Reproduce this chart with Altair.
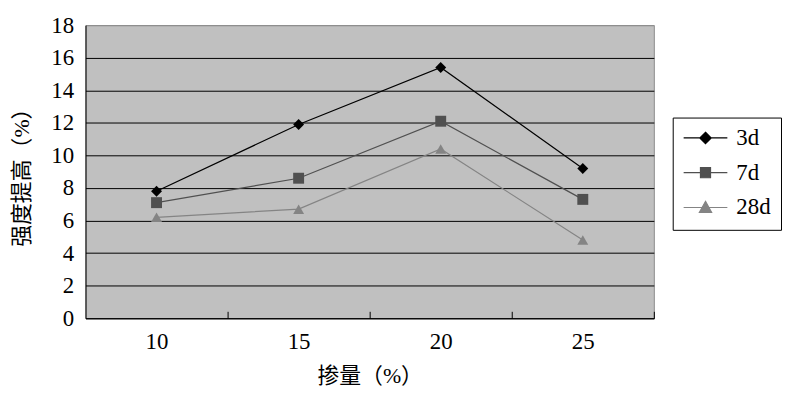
import altair as alt
import pandas as pd

# ---- data ----
x_vals = [10, 15, 20, 25]
series = ["3d", "7d", "28d"]
s3d = [7.8, 11.9, 15.4, 9.2]
s7d = [7.1, 8.6, 12.1, 7.3]
s28d = [6.2, 6.7, 10.4, 4.8]
y_ticks = [0, 2, 4, 6, 8, 10, 12, 14, 16, 18]
x_bounds = [12.5, 17.5, 22.5, 27.5]   # category boundaries (tick marks)
x_title = "掺量（%）"
y_title = "强度提高（%）"

rows = []
for name, vals in zip(series, [s3d, s7d, s28d]):
    for xv, yv in zip(x_vals, vals):
        rows.append({"x": xv, "y": yv, "s": name})
df = pd.DataFrame(rows)

colors = ["#000000", "#505050", "#848484"]
serif = "Liberation Serif"
cjk = "Liberation Serif, Noto Sans CJK SC"

xscale = alt.Scale(domain=[7.5, 27.5], nice=False, zero=False)
yscale = alt.Scale(domain=[0, 18], nice=False, zero=True)

lines = alt.Chart(df).mark_line(strokeWidth=1.2).encode(
    x=alt.X("x:Q", scale=xscale, axis=alt.Axis(
        orient="bottom", values=x_vals, tickCount=20, format="d", title=x_title,
        ticks=False, grid=False, labelPadding=12, titlePadding=13)),
    y=alt.Y("y:Q", scale=yscale, axis=alt.Axis(
        values=y_ticks, tickCount=30, format="d", title=y_title, ticks=False, grid=True,
        gridColor={"condition": {"test": "datum.value === 18", "value": "#8c8c8c"}, "value": "#000000"},
        labelPadding=12, titlePadding=17)),
    stroke=alt.Stroke("s:N", scale=alt.Scale(domain=series, range=colors), legend=None),
)

pts = alt.Chart(df).mark_point(filled=True, size=121, opacity=1).encode(
    x=alt.X("x:Q", scale=xscale, axis=alt.Axis(
        orient="bottom", values=x_bounds, tickCount=20, offset=-7, domain=False, labels=False,
        grid=False, ticks=True, tickSize=7, title=None)),
    y=alt.Y("y:Q", scale=yscale),
    shape=alt.Shape("s:N", scale=alt.Scale(domain=series, range=["diamond", "square", "triangle-up"]), legend=None),
    fill=alt.Fill("s:N", scale=alt.Scale(domain=series, range=colors), legend=None),
)

leg_shapes = [
    "M-1,0H1M0,-0.26L0.26,0L0,0.26L-0.26,0Z",
    "M-1,0H1M-0.23,-0.23H0.23V0.23H-0.23Z",
    "M-1,0H1M0,-0.28L0.28,0.22L-0.28,0.22Z",
]

leg = alt.Chart(df).mark_point(filled=True, size=1936, opacity=0, strokeWidth=1.2).encode(
    x=alt.X("x:Q", scale=xscale, axis=None),
    y=alt.Y("y:Q", scale=yscale),
    shape=alt.Shape("s:N", scale=alt.Scale(domain=series, range=leg_shapes), legend=alt.Legend(
        title=None, orient="none", legendX=591, legendY=93,
        fillColor="white", strokeColor="black", padding=10,
        symbolSize=1936, symbolStrokeWidth=1.2, symbolOpacity=1,
        labelOffset=8, rowPadding=11, clipHeight=21)),
    fill=alt.Fill("s:N", scale=alt.Scale(domain=series, range=colors)),
    stroke=alt.Stroke("s:N", scale=alt.Scale(domain=series, range=colors)),
)

chart = alt.layer(lines, pts, leg).resolve_scale(
    shape="independent", fill="independent", stroke="independent"
).resolve_axis(x="independent").properties(
    width=572, height=295,
    autosize=alt.AutoSizeParams(type="none"),
    padding={"left": 78, "top": 16, "right": 130, "bottom": 80},
    background="white",
).configure_view(
    fill="#C0C0C0", stroke="#8c8c8c", strokeWidth=1
).configure_axis(
    labelFont=serif, labelFontSize=23, labelColor="black", labelOverlap=False,
    titleFont=cjk, titleFontSize=22, titleFontWeight="normal", titleColor="black",
    domainColor="black", domainWidth=1, gridWidth=1, gridOpacity=1,
    tickColor="black", tickWidth=1,
).configure_legend(
    labelFont=serif, labelFontSize=23, labelColor="black",
)

chart.save("out.html", embed_options={"renderer": "svg", "actions": False})
